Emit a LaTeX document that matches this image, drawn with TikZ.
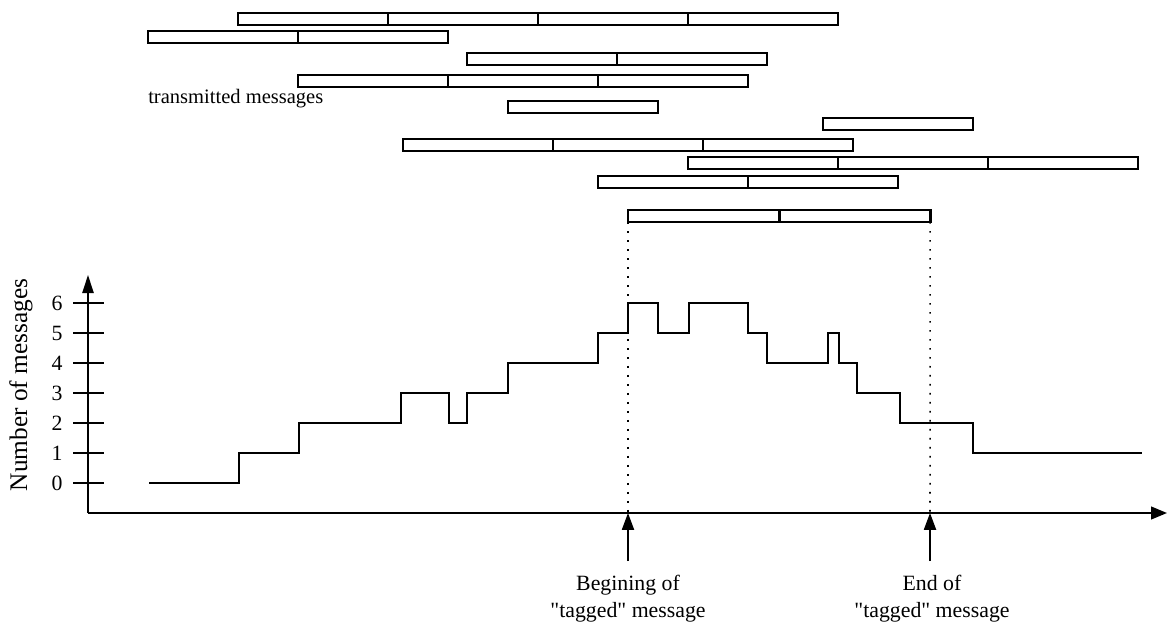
\documentclass[tikz,border=0pt]{standalone}
\usepackage{fontspec}
\setmainfont{Liberation Serif}
\usetikzlibrary{arrows.meta}

\begin{document}
\begin{tikzpicture}[x=0.025cm, y=-0.025cm,
        font=\fontsize{15.5}{19}\selectfont]
        \tikzstyle{msgCell} = [rectangle, draw=black, line width=1.3pt, inner sep=0pt, outer sep=0pt,
                               minimum width=3.75cm, minimum height=0.3cm, anchor=north west]
        \tikzstyle{tagCell} = [msgCell, line width=2.1pt, minimum width=3.775cm]
        \tikzstyle{axisLine} = [draw=black, line width=1.3pt]
        \tikzstyle{guideLine} = [draw=black, line width=1.1pt, dash pattern=on 1.1pt off 5.3pt]
        \tikzstyle{countLine} = [draw=black, line width=1.3pt]
        \tikzstyle{labelText} = [inner sep=0pt, align=center, anchor=north]
        \useasboundingbox (0,0) rectangle (1168,636);
        % transmitted messages
        \foreach \x/\y/\n in {238/13/4, 148/31/2, 467/53/2, 298/75/3, 508/101/1,
                              823/118/1, 403/139/3, 688/157/3, 598/176/2}
            \foreach \i in {1,...,\n}
                \node[msgCell] (m\y-\i) at ({\x+150*(\i-1)},\y) {};
        \node[inner sep=0pt, anchor=base west, font=\fontsize{14.6}{18}\selectfont] (sent) at (148,104) {transmitted messages};
        % tagged message
        \node[tagCell] (tag1) at (628,210) {};
        \node[tagCell] (tag2) at (tag1.north east) {};
        % axes
        \coordinate (o) at (88,513);
        \coordinate (ytop) at (88,275);
        \coordinate (xend) at (1167,513);
        \draw[axisLine, -{Triangle[length=0.45cm, width=0.28cm]}] (o) -- (ytop);
        \draw[axisLine, -{Triangle[length=0.4cm, width=0.32cm]}] (o) -- (xend);
        \foreach \n in {0,...,6} {
            \node (t\n) at (57,483-30*\n) {\n};
            \draw[axisLine] (73,483-30*\n) -- (104,483-30*\n);
        }
        \node[rotate=90, font=\fontsize{18}{21}\selectfont] (ylbl) at (21,385) {Number of messages};
        % number of messages
        \draw[countLine] (149,483) -| (239,453) -| (299,423) -| (401,393) -| (449,423)
            -| (467,393) -| (508,363) -| (598,333) -| (628,303) -| (658,333) -| (689,303)
            -| (748,333) -| (767,363) -| (828,333) -| (839,363) -| (857,393) -| (900,423)
            -| (973,453) -- (1142,453);
        % begin and end
        \coordinate (begin) at (628,513);
        \coordinate (end) at (930,513);
        \coordinate (beginTail) at (628,561);
        \coordinate (endTail) at (930,561);
        \path[guideLine] (tag1.south west) -- (begin);
        \path[guideLine] (tag2.south east) -- (end);
        \draw[axisLine, -{Triangle[length=0.42cm, width=0.3cm]}] (beginTail) -- (begin);
        \draw[axisLine, -{Triangle[length=0.42cm, width=0.3cm]}] (endTail) -- (end);
        \node[labelText] (beginLbl) at (628,575) {Begining of\\\textquotedbl tagged\textquotedbl\ message};
        \node[labelText] (endLbl) at (932,575) {End of\\\textquotedbl tagged\textquotedbl\ message};
    \end{tikzpicture}
\end{document}
